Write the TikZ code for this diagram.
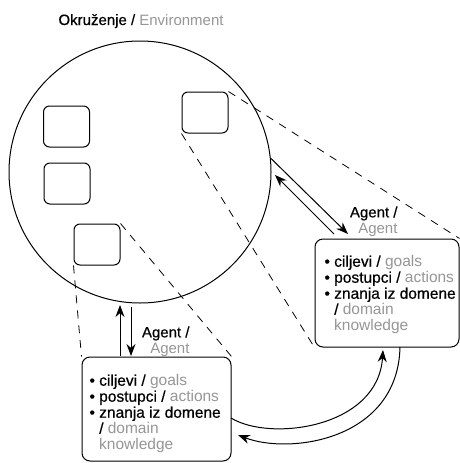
\documentclass[tikz,border=0pt]{standalone}
\usepackage{fontspec}
\setmainfont{Liberation Sans}
\newfontfamily\medfont{Liberation Sans}[FakeBold=0.5]
\usetikzlibrary{arrows.meta}
\definecolor{gtext}{RGB}{150,150,150}
\newcommand{\gr}[1]{{\normalfont\textcolor{gtext}{#1}}}
\begin{document}
\begin{tikzpicture}[x=1pt,y=-1pt,
  line width=1pt,
  txt/.style={font=\fontsize{15}{16}\selectfont\medfont, inner sep=0pt},
  btxt/.style={font=\fontsize{15.5}{16}\selectfont\medfont, inner sep=0pt},
  smallbox/.style={draw, rounded corners=6pt, minimum width=46pt, minimum height=41pt, inner sep=0pt},
  bigbox/.style={draw, fill=white, rounded corners=8pt, inner sep=0pt},
  guide/.style={dash pattern=on 8pt off 7pt, line width=0.8pt},
  arr/.style={-{Stealth[length=12pt,width=9pt]}},
]
\useasboundingbox (0,0) rectangle (460,463);

\node[txt, anchor=base west] (title) at (58,25) {Okruženje / \gr{Environment}};

\node[draw, circle, minimum size=262pt, inner sep=0pt] (env) at (140,172) {};

\node[smallbox] (boxA) at (205,112.5) {};
\node[smallbox] (boxB) at (66.5,126.5) {};
\node[smallbox] (boxC) at (67,183.5) {};
\node[smallbox] (boxD) at (97,244.5) {};

\node[bigbox, minimum width=144pt, minimum height=108pt] (agR) at (387,293) {};
\node[bigbox, minimum width=149pt, minimum height=104pt] (agB) at (156.5,409) {};

\draw[guide] (boxA.north east) -- (agR.north east);
\draw[guide] (boxA.south west) -- (agR.south west);
\draw[guide] (boxD.north east) -- (agB.north east);
\draw[guide] (boxD.south west) -- (agB.north west);

\node[btxt, align=left, anchor=north west] (tR) at (324,255)
  {\textbullet\ ciljevi / \gr{goals}\\
   \textbullet\ postupci / \gr{actions}\\
   \textbullet\ znanja iz domene\\
   \phantom{\textbullet\ }/ \gr{domain}\\
   \phantom{\textbullet\ }\gr{knowledge}};
\node[btxt, align=left, anchor=north west] (tB) at (89,374)
  {\textbullet\ ciljevi / \gr{goals}\\
   \textbullet\ postupci / \gr{actions}\\
   \textbullet\ znanja iz domene\\
   \phantom{\textbullet\ }/ \gr{domain}\\
   \phantom{\textbullet\ }\gr{knowledge}};

\node[txt, align=right, anchor=north east] (lblR) at (398,206) {Agent /\\ \gr{Agent}};
\node[txt, align=right, anchor=north east] (lblB) at (190,326) {Agent /\\ \gr{Agent}};

\coordinate (a1e) at (348,234);
\coordinate (a2s) at (334,234);
\coordinate (a2e) at (275,175);
\draw[arr] (env.6.5) -- (a1e);
\draw[arr] (a2s) -- (a2e);

\coordinate (v1s) at (120,356);
\coordinate (v1e) at (120,305);
\coordinate (v2s) at (131,307);
\coordinate (v2e) at (131,356);
\draw[arr] (v1s) -- (v1e);
\draw[arr] (v2s) -- (v2e);

\coordinate (c1s) at (231,418);
\coordinate (c1e) at (383,350);
\coordinate (c2s) at (400,347);
\coordinate (c2e) at (238,435);
\draw[arr] (c1s) .. controls (270,442) and (378,428) .. (c1e);
\draw[arr] (c2s) .. controls (398,440) and (290,455) .. (c2e);
\end{tikzpicture}
\end{document}
